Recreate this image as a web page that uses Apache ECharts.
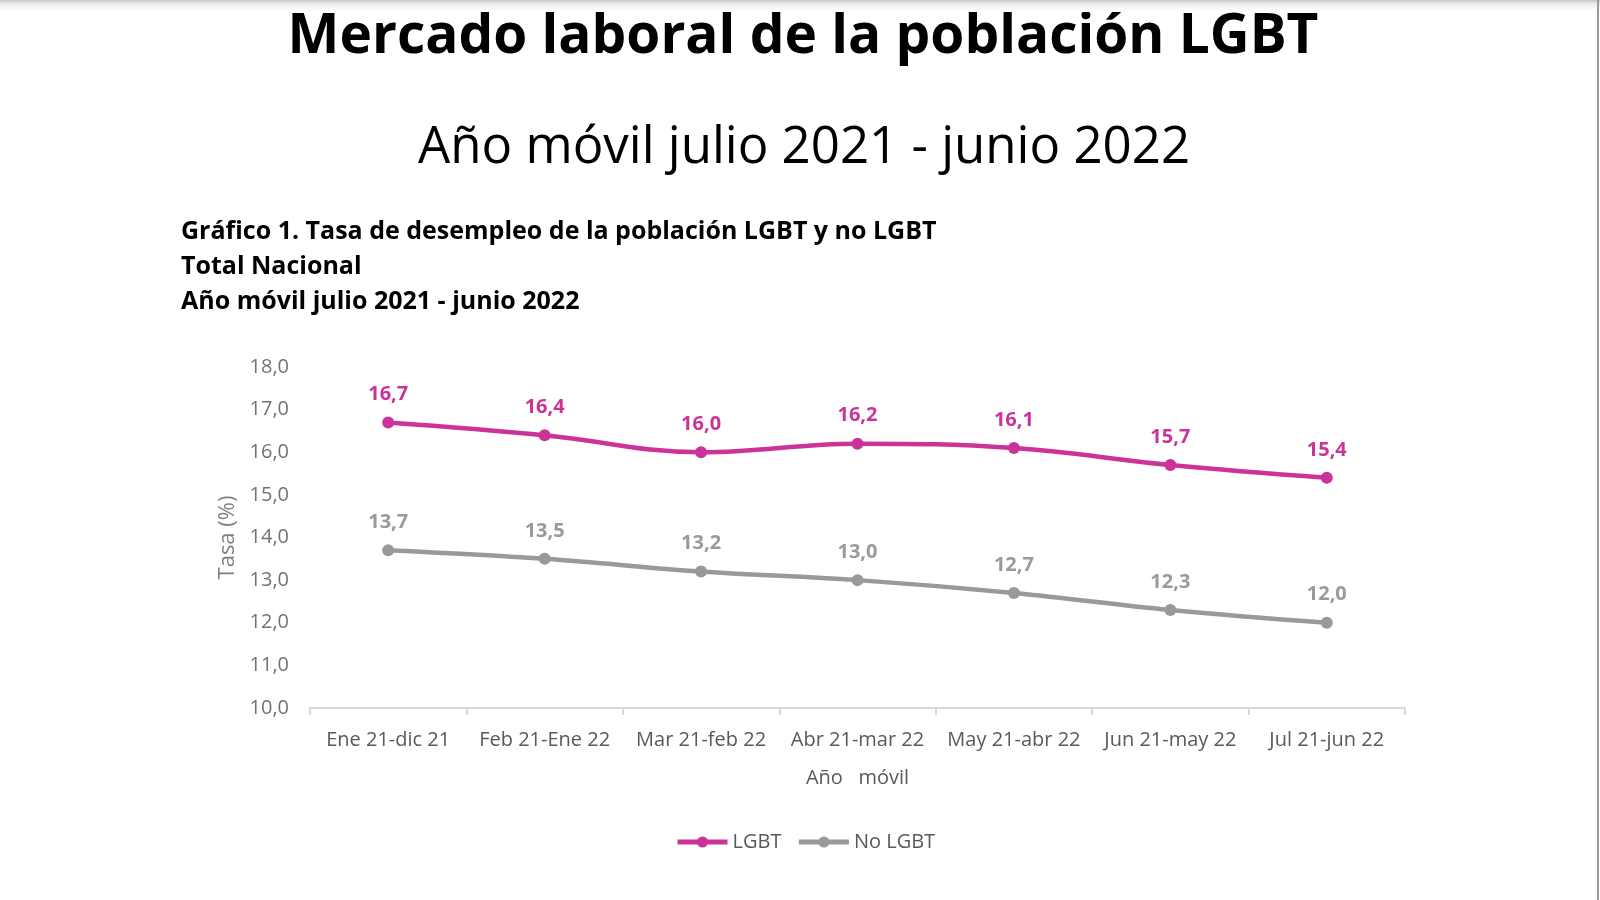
<!DOCTYPE html>
<html>
<head>
<meta charset="utf-8">
<script src="https://cdn.jsdelivr.net/npm/echarts@6/dist/echarts.min.js"></script>
<style>
  html, body { margin: 0; padding: 0; background: #ffffff; }
  #chart { width: 1600px; height: 900px; }
  #topshade { position: absolute; left: 0; top: 0; width: 1600px; height: 12px;
    background: linear-gradient(to bottom, #c4c4c4 0px, #e6e6e6 3px, #f7f7f7 8px, #ffffff 12px); pointer-events: none; }
  #rightline { position: absolute; left: 1597px; top: 0; width: 2px; height: 900px; background: #9a9a9a; pointer-events: none; }
</style>
</head>
<body>
<div id="chart"></div>
<div id="topshade"></div>
<div id="rightline"></div>
<script>
const pageTitle = 'Mercado laboral de la población LGBT';
const pageSubtitle = 'Año móvil julio 2021 - junio 2022';
const chartTitleLines = [
  'Gráfico 1. Tasa de desempleo de la población LGBT y no LGBT',
  'Total Nacional',
  'Año móvil julio 2021 - junio 2022'
];
const categories = ['Ene 21-dic 21', 'Feb 21-Ene 22', 'Mar 21-feb 22', 'Abr 21-mar 22', 'May 21-abr 22', 'Jun 21-may 22', 'Jul 21-jun 22'];
const lgbt = [16.7, 16.4, 16.0, 16.2, 16.1, 15.7, 15.4];
const noLgbt = [13.7, 13.5, 13.2, 13.0, 12.7, 12.3, 12.0];
const seriesNames = ['LGBT', 'No LGBT'];
const yMin = 10, yMax = 18, yStep = 1;
const xAxisName = 'Año   móvil';
const yAxisName = 'Tasa (%)';

const FONT = '"Open Sans", "Noto Sans", sans-serif';
const fmt = v => Number(v).toFixed(1).replace('.', ',');
const MAGENTA = '#cc3399';
const GREY = '#999999';

const chart = echarts.init(document.getElementById('chart'), null, { renderer: 'canvas' });
chart.setOption({
  backgroundColor: '#ffffff',
  animation: false,
  title: [
    { text: pageTitle, left: 798, textAlign: 'center', top: 2,
      textStyle: { fontFamily: FONT, fontWeight: 'bold', fontSize: 55, lineHeight: 60, color: '#000000' } },
    { text: pageSubtitle, left: 799, textAlign: 'center', top: 115,
      textStyle: { fontFamily: FONT, fontWeight: 'normal', fontSize: 51, lineHeight: 56, color: '#000000' } },
    { text: chartTitleLines.join('\n'), left: 176, top: 209,
      textStyle: { fontFamily: FONT, fontWeight: 'bold', fontSize: 25, lineHeight: 35.3, color: '#000000' } }
  ],
  legend: {
    data: seriesNames,
    left: 670, top: 827,
    itemWidth: 50, itemHeight: 14, itemGap: 15,
    lineStyle: { width: 5 },
    textStyle: { fontFamily: FONT, fontSize: 20, color: '#595959' }
  },
  grid: { left: 310, right: 195, top: 367, bottom: 192, containLabel: false },
  xAxis: {
    type: 'category',
    data: categories,
    boundaryGap: true,
    name: xAxisName,
    nameLocation: 'middle',
    nameGap: 60,
    nameTextStyle: { fontFamily: FONT, fontSize: 20, color: '#595959' },
    axisLine: { lineStyle: { color: '#d9d9d9', width: 2 } },
    axisTick: { show: true, length: 7, lineStyle: { color: '#d9d9d9', width: 2 } },
    axisLabel: { fontFamily: FONT, fontSize: 20, color: '#595959', margin: 22, interval: 0 },
    splitLine: { show: false }
  },
  yAxis: {
    type: 'value',
    min: yMin, max: yMax, interval: yStep,
    name: yAxisName,
    nameLocation: 'middle',
    nameGap: 70,
    nameRotate: 90,
    nameTextStyle: { fontFamily: FONT, fontSize: 22, color: '#7f7f7f' },
    axisLine: { show: false },
    axisTick: { show: false },
    splitLine: { show: false },
    axisLabel: { fontFamily: FONT, fontSize: 20, color: '#737373', margin: 21, formatter: fmt }
  },
  series: [
    {
      name: seriesNames[0], type: 'line', data: lgbt, smooth: 0.4,
      symbol: 'circle', symbolSize: 12,
      lineStyle: { color: MAGENTA, width: 4.5 },
      itemStyle: { color: MAGENTA },
      label: { show: true, position: 'top', distance: 12, formatter: p => fmt(p.value),
        fontFamily: FONT, fontSize: 20, fontWeight: 'bold', color: MAGENTA }
    },
    {
      name: seriesNames[1], type: 'line', data: noLgbt, smooth: 0.4,
      symbol: 'circle', symbolSize: 12,
      lineStyle: { color: GREY, width: 4.5 },
      itemStyle: { color: GREY },
      label: { show: true, position: 'top', distance: 12, formatter: p => fmt(p.value),
        fontFamily: FONT, fontSize: 20, fontWeight: 'bold', color: '#9a9a9a' }
    }
  ]
});
</script>
</body>
</html>
